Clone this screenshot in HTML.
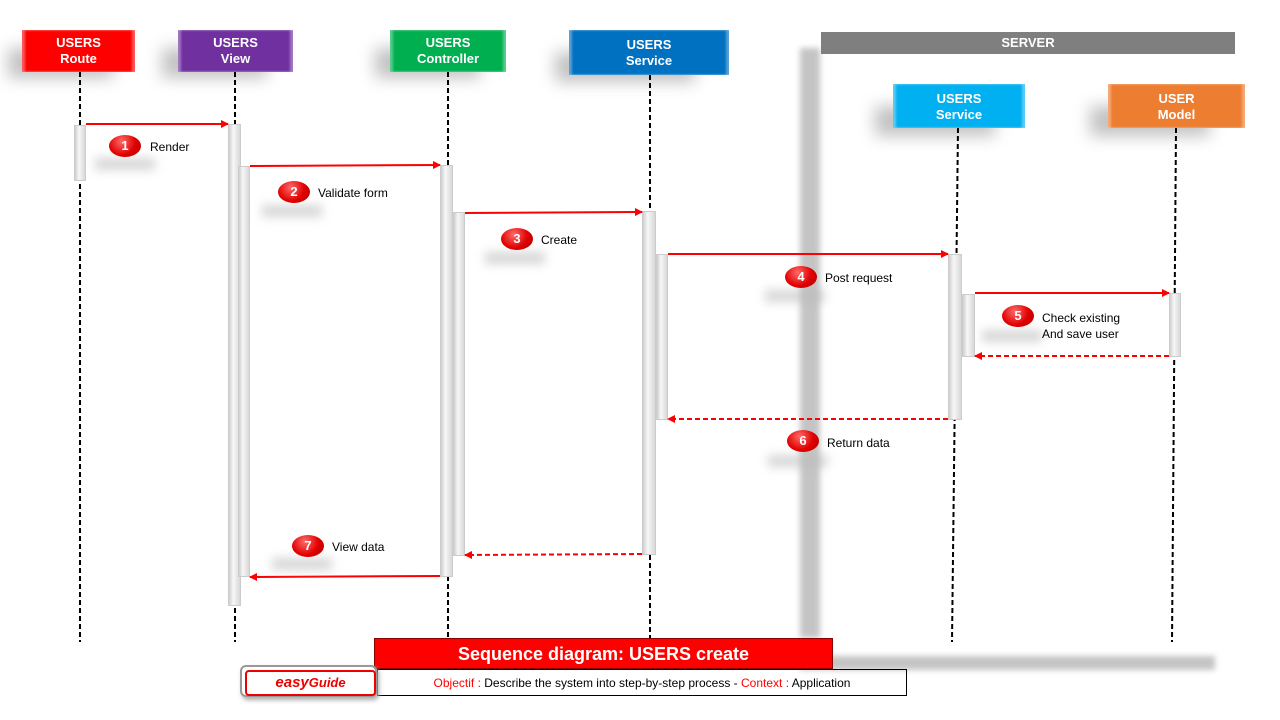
<!DOCTYPE html>
<html><head><meta charset="utf-8"><style>
body{margin:0;width:1280px;height:720px;background:#fff;position:relative;overflow:hidden;font-family:"Liberation Sans",sans-serif}
.a{position:absolute}
.hd{position:absolute;color:#fff;font-weight:bold;font-size:13px;text-align:center;line-height:16px;box-sizing:border-box;padding-top:5px;box-shadow:inset 3px 0 2px rgba(255,255,255,.35),inset -3px 0 2px rgba(255,255,255,.35)}
.sh{position:absolute;background:#999;filter:blur(8px);opacity:.6}
.bar{position:absolute;background:linear-gradient(90deg,#cfcfcf,#f7f7f7 40%,#d8d8d8);border:1px solid #ccc;box-sizing:border-box}
.b{position:absolute;width:32px;height:22px;border-radius:50%;background:radial-gradient(circle at 40% 30%,#ff6a6a,#e00000 55%,#b00000);color:#fff;font-weight:bold;font-size:13px;text-align:center;line-height:22px}
.t{position:absolute;font-size:12px;color:#000}
.bs{position:absolute;width:60px;height:12px;background:#bbb;filter:blur(5px);opacity:.6}
</style></head><body>
<!-- header shadows -->
<div class="sh" style="left:8px;top:48px;width:105px;height:30px"></div>
<div class="sh" style="left:162px;top:48px;width:105px;height:30px"></div>
<div class="sh" style="left:375px;top:48px;width:105px;height:30px"></div>
<div class="sh" style="left:555px;top:52px;width:140px;height:30px"></div>
<div class="sh" style="left:875px;top:106px;width:120px;height:30px"></div>
<div class="sh" style="left:1090px;top:106px;width:120px;height:30px"></div>
<!-- server shadow -->
<div class="a" style="left:800px;top:48px;width:20px;height:590px;background:#c4c4c4;filter:blur(3px)"></div>
<div class="a" style="left:800px;top:656px;width:415px;height:14px;background:#c4c4c4;filter:blur(3px)"></div>
<div class="a" style="left:821px;top:32px;width:414px;height:22px;background:#7f7f7f;color:#fff;font-weight:bold;font-size:13px;text-align:center;line-height:22px">SERVER</div>

<div class="hd" style="left:22px;top:30px;width:113px;height:42px;background:#ff0000">USERS<br>Route</div>
<div class="hd" style="left:178px;top:30px;width:115px;height:42px;background:#7030a0">USERS<br>View</div>
<div class="hd" style="left:390px;top:30px;width:116px;height:42px;background:#00b050">USERS<br>Controller</div>
<div class="hd" style="left:569px;top:30px;width:160px;height:45px;background:#0070c0;padding-top:7px">USERS<br>Service</div>
<div class="hd" style="left:893px;top:84px;width:132px;height:44px;background:#00b0f0;padding-top:7px">USERS<br>Service</div>
<div class="hd" style="left:1108px;top:84px;width:137px;height:44px;background:#ed7d31;padding-top:7px">USER<br>Model</div>

<svg class="a" style="left:0;top:0" width="1280" height="720">
<defs><marker id="m" markerWidth="8" markerHeight="8" refX="7" refY="4" orient="auto" markerUnits="userSpaceOnUse"><path d="M0,0 L8,4 L0,8z" fill="#f00"/></marker></defs>
<g stroke="#000" stroke-width="2" stroke-dasharray="5,3">
<line x1="80" y1="72" x2="80" y2="642"/>
<line x1="235" y1="72" x2="235" y2="642"/>
<line x1="448" y1="72" x2="448" y2="638"/>
<line x1="650" y1="75" x2="650" y2="638"/>
<line x1="958" y1="128" x2="952" y2="642"/>
<line x1="1176" y1="128" x2="1172" y2="642"/>
</g>
</svg>

<div class="bar" style="left:74px;top:125px;width:12px;height:56px"></div>
<div class="bar" style="left:228px;top:124px;width:13px;height:482px"></div>
<div class="bar" style="left:238px;top:166px;width:12px;height:411px"></div>
<div class="bar" style="left:440px;top:165px;width:13px;height:412px"></div>
<div class="bar" style="left:453px;top:212px;width:12px;height:344px"></div>
<div class="bar" style="left:642px;top:211px;width:14px;height:344px"></div>
<div class="bar" style="left:656px;top:254px;width:12px;height:166px"></div>
<div class="bar" style="left:948px;top:254px;width:14px;height:166px"></div>
<div class="bar" style="left:962px;top:294px;width:13px;height:63px"></div>
<div class="bar" style="left:1169px;top:293px;width:12px;height:64px"></div>

<svg class="a" style="left:0;top:0" width="1280" height="720">
<g stroke="#f00" stroke-width="2" fill="none">
<line x1="86" y1="124" x2="228" y2="124" marker-end="url(#m)"/>
<line x1="250" y1="166" x2="440" y2="165" marker-end="url(#m)"/>
<line x1="465" y1="213" x2="642" y2="212" marker-end="url(#m)"/>
<line x1="668" y1="254" x2="948" y2="254" marker-end="url(#m)"/>
<line x1="975" y1="293" x2="1169" y2="293" marker-end="url(#m)"/>
<line x1="440" y1="576" x2="250" y2="577" marker-end="url(#m)"/>
<g stroke-dasharray="5,3">
<line x1="1169" y1="356" x2="975" y2="356" marker-end="url(#m)"/>
<line x1="948" y1="419" x2="668" y2="419" marker-end="url(#m)"/>
<line x1="642" y1="554" x2="465" y2="555" marker-end="url(#m)"/>
</g></g>
</svg>

<div class="bs" style="left:95px;top:158px"></div>
<div class="bs" style="left:262px;top:205px"></div>
<div class="bs" style="left:485px;top:252px"></div>
<div class="bs" style="left:765px;top:290px"></div>
<div class="bs" style="left:982px;top:330px"></div>
<div class="bs" style="left:768px;top:455px"></div>
<div class="bs" style="left:272px;top:558px"></div>

<div class="b" style="left:109px;top:135px">1</div><div class="t" style="left:150px;top:140px">Render</div>
<div class="b" style="left:278px;top:181px">2</div><div class="t" style="left:318px;top:186px">Validate form</div>
<div class="b" style="left:501px;top:228px">3</div><div class="t" style="left:541px;top:233px">Create</div>
<div class="b" style="left:785px;top:266px">4</div><div class="t" style="left:825px;top:271px">Post request</div>
<div class="b" style="left:1002px;top:305px">5</div><div class="t" style="left:1042px;top:310px;line-height:16px">Check existing<br>And save user</div>
<div class="b" style="left:787px;top:430px">6</div><div class="t" style="left:827px;top:436px">Return data</div>
<div class="b" style="left:292px;top:535px">7</div><div class="t" style="left:332px;top:540px">View data</div>

<div class="a" style="left:374px;top:638px;width:459px;height:31px;background:#f00;border:1px solid #800;box-sizing:border-box;color:#fff;font-weight:bold;font-size:18px;text-align:center;line-height:30px">Sequence diagram: USERS create</div>
<div class="a" style="left:377px;top:669px;width:530px;height:27px;border:1px solid #000;box-sizing:border-box;font-size:12px;text-align:center;line-height:26px"><span style="color:#f00">Objectif :</span> Describe the system into step-by-step process - <span style="color:#f00">Context :</span> Application</div>
<div class="a" style="left:240px;top:665px;width:137px;height:32px;border:2px solid #999;border-radius:6px;box-sizing:border-box;background:#fff;box-shadow:2px 3px 5px #aaa">
<div class="a" style="left:3px;top:3px;width:127px;height:22px;border:2px solid #e00;border-radius:4px;color:#e00;font-weight:bold;font-style:italic;font-size:15px;line-height:22px;text-align:center">easy<span style="font-size:13px">Guide</span></div></div>
</body></html>
